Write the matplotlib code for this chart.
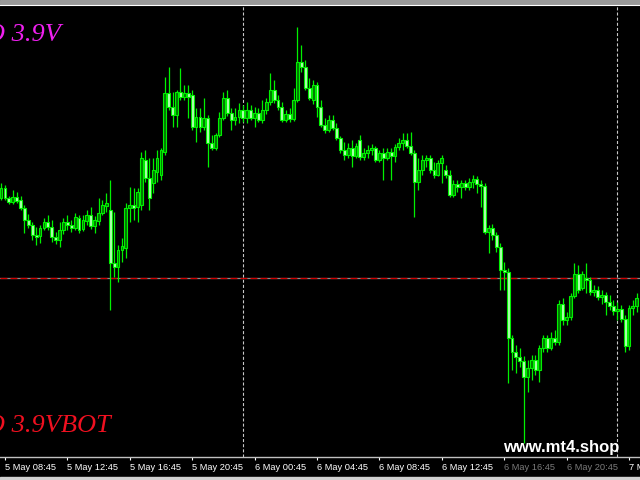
import matplotlib
matplotlib.use("Agg")
import matplotlib.pyplot as plt
from matplotlib.patches import Rectangle
import pandas as pd

plt.rcParams["lines.scale_dashes"] = False

# M15 bars, 5 May 08:30 -> 7 May 01:15
bar_times = pd.date_range("2021-05-05 08:30", periods=164, freq="15min")

open_ = [282, 292, 282, 278, 283, 280, 272, 260, 255, 245, 244, 252, 258, 253, 243, 240, 250, 258, 255, 252,
         262, 251, 259, 265, 254, 259, 267, 274, 270, 217, 213, 230, 232, 272, 275, 273, 275, 320, 302, 297,
         308, 305, 328, 387, 373, 365, 388, 383, 387, 385, 353, 363, 353, 362, 337, 332, 345, 362, 382, 367,
         360, 363, 370, 362, 370, 362, 367, 360, 370, 378, 390, 380, 373, 360, 366, 361, 380, 418, 413, 392,
         380, 395, 373, 355, 350, 360, 352, 342, 330, 325, 332, 324, 340, 323, 327, 330, 332, 320, 327, 322,
         328, 324, 333, 337, 340, 334, 327, 298, 310, 320, 322, 310, 305, 317, 310, 305, 285, 296, 293, 297,
         293, 298, 301, 296, 294, 248, 252, 245, 233, 210, 208, 142, 128, 123, 119, 103, 112, 120, 110, 132,
         142, 132, 142, 138, 176, 160, 163, 184, 206, 192, 202, 200, 188, 190, 183, 185, 178, 174, 169, 171,
         161, 134, 172, 174]
high = [297, 295, 284, 290, 288, 284, 275, 266, 258, 253, 255, 262, 265, 260, 248, 258, 262, 265, 260, 267,
        265, 265, 270, 273, 264, 282, 280, 287, 300, 268, 235, 242, 277, 293, 292, 292, 328, 330, 322, 322,
        330, 332, 403, 413, 388, 390, 412, 395, 395, 390, 372, 372, 382, 365, 345, 347, 368, 388, 390, 372,
        372, 377, 375, 378, 375, 373, 372, 380, 382, 407, 400, 385, 378, 370, 372, 392, 453, 435, 420, 402,
        400, 398, 380, 362, 365, 365, 357, 344, 338, 337, 340, 337, 345, 332, 335, 336, 334, 330, 332, 332,
        332, 336, 342, 347, 347, 348, 330, 322, 325, 325, 325, 318, 320, 325, 315, 310, 300, 300, 300, 300,
        302, 305, 304, 300, 297, 255, 256, 248, 237, 218, 212, 145, 135, 132, 124, 120, 125, 125, 135, 145,
        145, 148, 150, 180, 182, 168, 187, 217, 215, 209, 217, 203, 195, 194, 190, 188, 185, 180, 178, 175,
        165, 175, 180, 187]
low = [280, 280, 276, 276, 277, 270, 247, 252, 240, 235, 237, 250, 250, 238, 236, 233, 246, 250, 248, 250,
       247, 249, 255, 251, 247, 255, 265, 268, 170, 203, 198, 218, 222, 258, 260, 258, 270, 298, 270, 287,
       298, 300, 325, 370, 353, 353, 380, 380, 362, 350, 338, 348, 350, 313, 330, 330, 343, 360, 364, 350,
       355, 357, 358, 357, 360, 353, 358, 357, 366, 375, 377, 370, 358, 358, 358, 359, 378, 408, 390, 380,
       376, 363, 353, 347, 348, 350, 340, 327, 320, 322, 313, 322, 320, 320, 322, 325, 318, 318, 300, 320,
       300, 318, 330, 330, 332, 325, 263, 290, 305, 313, 307, 302, 304, 297, 302, 283, 283, 288, 282, 290,
       290, 292, 287, 273, 246, 227, 240, 228, 190, 190, 97, 110, 107, 113, 37, 88, 100, 105, 98, 128,
       128, 130, 135, 135, 155, 155, 160, 182, 187, 190, 187, 185, 184, 180, 176, 165, 170, 165, 160, 158,
       128, 130, 165, 168]
close = [292, 282, 278, 283, 279, 272, 260, 255, 245, 243, 252, 258, 253, 243, 240, 250, 258, 255, 252, 263,
         250, 260, 265, 254, 260, 267, 275, 277, 217, 213, 230, 234, 272, 275, 272, 288, 322, 302, 282, 310,
         322, 330, 387, 373, 365, 388, 383, 387, 383, 353, 363, 353, 362, 337, 332, 345, 362, 382, 367, 360,
         363, 370, 362, 370, 362, 367, 360, 370, 378, 390, 380, 373, 360, 366, 361, 380, 418, 413, 392, 382,
         395, 373, 355, 350, 360, 352, 342, 330, 325, 332, 324, 334, 323, 327, 330, 332, 320, 327, 322, 328,
         324, 333, 337, 340, 334, 327, 298, 310, 320, 322, 310, 305, 317, 322, 305, 285, 296, 293, 297, 293,
         298, 301, 296, 294, 248, 252, 245, 233, 210, 208, 142, 128, 123, 119, 103, 112, 120, 110, 132, 142,
         132, 142, 138, 176, 160, 163, 184, 206, 190, 206, 200, 188, 190, 183, 185, 178, 174, 169, 171, 161,
         134, 172, 174, 182]

level = 202  # horizontal red/grey line
dim_labels = ["6 May 16:45", "6 May 20:45"]

BG = "black"
WICK = "#00F000"
BULL_FILL = "#007800"
BEAR_FILL = "#B0FFB0"

fig = plt.figure(figsize=(6.4, 4.8), dpi=100, facecolor=BG)
ax = fig.add_axes([0, 23 / 480, 1, 452 / 480], facecolor=BG)

idx = list(range(len(bar_times)))

ax.vlines(idx, low, high, color=WICK, linewidth=0.9, zorder=2)
bottoms = [min(o, c) for o, c in zip(open_, close)]
heights = [max(abs(c - o), 0.8) for o, c in zip(open_, close)]
fills = [BULL_FILL if c > o else BEAR_FILL for o, c in zip(open_, close)]
ax.bar(idx, heights, bottom=bottoms, width=0.72, color=fills, edgecolor=WICK, linewidth=0.8, zorder=3)

# day separators
for i, t in enumerate(bar_times):
    if t.hour == 0 and t.minute == 0:
        ax.axvline(i, color="#c8c8c8", linewidth=0.8, linestyle=(0, (2.2, 1.5)), zorder=1)

# level line: grey under red dashes
ax.axhline(level, color="#8c8c8c", linewidth=0.9, zorder=1)
ax.axhline(level, color="#d00000", linewidth=0.9, linestyle=(0, (5, 2.2)), zorder=1)

ax.set_xlim(-0.28, 163.82)
ax.set_ylim(23, 475)

tick_idx = [i for i, t in enumerate(bar_times) if t.minute == 45 and t.hour % 4 == 0]
tick_lbl = [f"{bar_times[i].day} May {bar_times[i]:%H:%M}" for i in tick_idx]
ax.set_xticks(tick_idx)
ax.set_xticklabels(tick_lbl, ha="left", fontsize=6.7, family="Liberation Sans")
ax.tick_params(axis="x", colors="white", direction="out", length=2.5, width=0.8, pad=1.5)
for lbl in ax.get_xticklabels():
    lbl.set_color("#7a7a7a" if lbl.get_text() in dim_labels else "white")
ax.set_yticks([])
for side in ["top", "left", "right"]:
    ax.spines[side].set_visible(False)
ax.spines["bottom"].set_color("#c0c0c0")
ax.spines["bottom"].set_linewidth(1.0)

# window frame bits
fig.patches.append(Rectangle((0, 1 - 4 / 480), 1, 4 / 480, transform=fig.transFigure, color="#9a9a9a", zorder=0))
fig.add_artist(plt.Line2D([0, 1], [1 - 4.5 / 480] * 2, transform=fig.transFigure, color="white", linewidth=0.8))
fig.patches.append(Rectangle((0, 0), 1, 3 / 480, transform=fig.transFigure, color="#d0d0d0", zorder=0))

# indicator labels (cut off at the left edge, as in the screenshot)
fig.text(-14 / 640, 1 - 41 / 480, "O 3.9V", color="#f020f0", fontsize=19, style="italic",
         family="Liberation Serif", va="baseline", ha="left")
fig.text(-14 / 640, 1 - 432 / 480, "O 3.9VBOT", color="#f01020", fontsize=19, style="italic",
         family="Liberation Serif", va="baseline", ha="left")

fig.text(503 / 640, 1 - 452 / 480, "www.mt4.shop", color="white", fontsize=12, weight="bold",
         family="Liberation Sans", va="baseline", ha="left")

fig.savefig("out.png", dpi=100, facecolor=BG)
